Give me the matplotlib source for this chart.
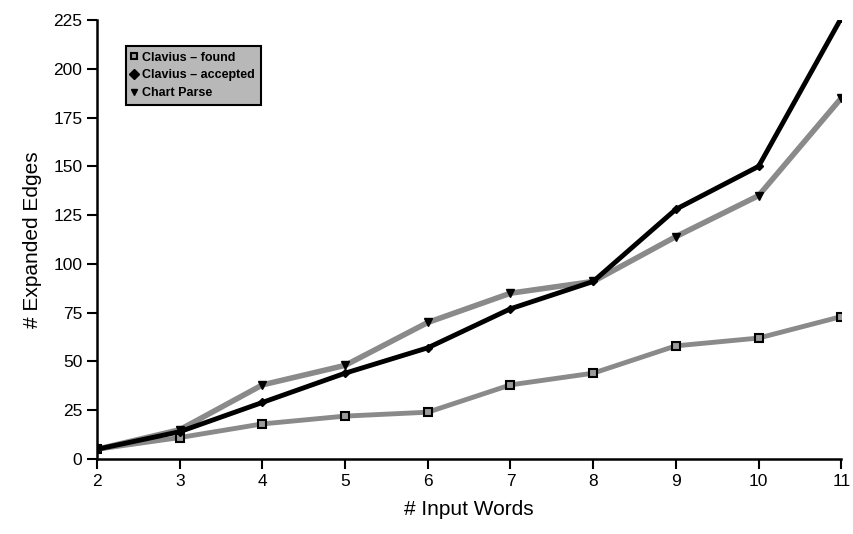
import matplotlib
matplotlib.use("Agg")
import matplotlib.pyplot as plt

plt.rcParams['font.family'] = ['Liberation Sans', 'DejaVu Sans']

# number of input words
words = [2, 3, 4, 5, 6, 7, 8, 9, 10, 11]

# expanded edges per method
clavius_found = [5, 11, 18, 22, 24, 38, 44, 58, 62, 73]
clavius_accepted = [5, 14, 29, 44, 57, 77, 91, 128, 150, 226]
chart_parse = [5, 15, 38, 48, 70, 85, 91, 114, 135, 185]

yticks = [0, 25, 50, 75, 100, 125, 150, 175, 200, 225]

fig = plt.figure(figsize=(8.54, 5.34), dpi=100, facecolor='white')
ax = fig.add_axes([0.1136, 0.1404, 0.8715, 0.8221])

ax.plot(words, clavius_found, color='#8a8a8a', lw=3.5, marker='s', ms=6,
        mfc='#9a9a9a', mec='black', mew=1.5, label='Clavius – found', zorder=3)
ax.plot(words, chart_parse, color='#8a8a8a', lw=4, marker='v', ms=6,
        mfc='black', mec='black', label='Chart Parse', zorder=3)
ax.plot(words, clavius_accepted, color='black', lw=3.5, marker='D', ms=4,
        mfc='black', mec='black', label='Clavius – accepted', zorder=4)

ax.set_xlim(2, 11)
ax.set_ylim(0, 225)
ax.set_xticks(words)
ax.set_yticks(yticks)
ax.tick_params(direction='out', length=7, width=1.5, labelsize=12.5)
for s in ['top', 'right']:
    ax.spines[s].set_visible(False)
for s in ['left', 'bottom']:
    ax.spines[s].set_linewidth(1.8)

ax.set_xlabel('# Input Words', fontsize=15, labelpad=8)
ax.set_ylabel('# Expanded Edges', fontsize=15, labelpad=8)

h, l = ax.get_legend_handles_labels()
order = [0, 2, 1]
leg = ax.legend([h[i] for i in order], [l[i] for i in order], loc='upper left',
                bbox_to_anchor=(0.03, 0.955), frameon=True, fancybox=False,
                facecolor='#b8b8b8', edgecolor='black', framealpha=1,
                handlelength=0.5, handletextpad=0.4, borderpad=0.45,
                labelspacing=0.45, prop={'weight': 'bold', 'size': 9})
leg.get_frame().set_linewidth(1.5)
for line in leg.get_lines():
    line.set_linestyle('none')
    line.set_markersize(5)

fig.savefig('out.png', dpi=100, facecolor='white')
